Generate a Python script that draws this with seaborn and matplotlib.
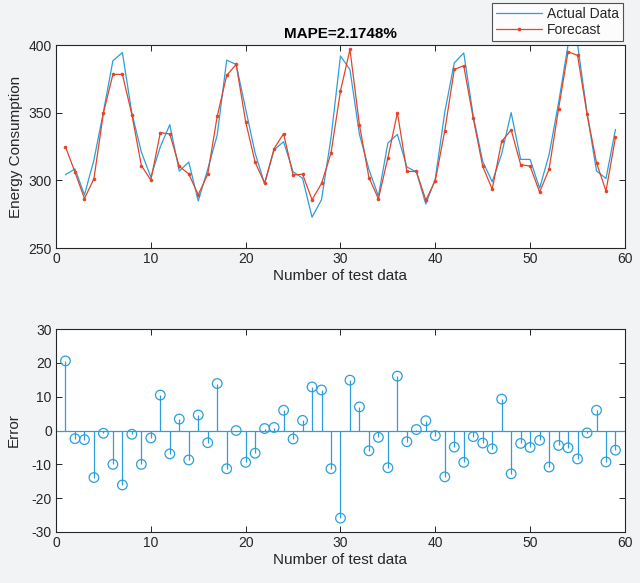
import numpy as np
import pandas as pd
import seaborn as sns
import matplotlib.pyplot as plt

# values
sample_idx = list(range(1, 60))

actual = [304.2, 308.5, 289.3, 315.1, 350.6, 388.4, 394.5, 349.7, 321.0, 302.4,
          324.8, 341.2, 306.9, 313.5, 284.8, 308.2, 333.5, 388.9, 385.7, 352.8,
          320.1, 297.4, 322.6, 328.6, 306.4, 301.6, 272.8, 285.7, 331.4, 392.0,
          381.9, 334.0, 308.1, 288.4, 327.6, 334.0, 309.9, 306.3, 282.5, 301.2,
          350.5, 386.9, 394.2, 347.7, 314.0, 298.9, 319.6, 350.1, 315.5, 315.5,
          294.2, 319.1, 357.4, 400.2, 400.8, 349.8, 307.0, 301.4, 337.7]

forecast = [324.8, 306.1, 286.6, 301.2, 349.8, 378.4, 378.4, 348.6, 311.0, 300.2,
            335.3, 334.3, 310.3, 304.8, 289.4, 304.6, 347.4, 377.6, 385.7, 343.4,
            313.4, 298.0, 323.5, 334.6, 303.9, 304.6, 285.7, 297.7, 320.1, 366.1,
            396.8, 341.0, 302.1, 286.4, 316.6, 350.1, 306.6, 306.6, 285.4, 299.7,
            336.8, 382.0, 384.8, 345.9, 310.3, 293.5, 328.9, 337.3, 311.7, 310.5,
            291.3, 308.3, 353.0, 395.1, 392.4, 349.1, 313.0, 292.1, 331.9]

error = [20.6, -2.4, -2.7, -13.9, -0.8, -10.0, -16.1, -1.1, -10.0, -2.2,
         10.5, -6.9, 3.4, -8.7, 4.6, -3.6, 13.9, -11.3, 0.0, -9.4,
         -6.7, 0.6, 0.9, 6.0, -2.5, 3.0, 12.9, 12.0, -11.3, -25.9,
         14.9, 7.0, -6.0, -2.0, -11.0, 16.1, -3.3, 0.3, 2.9, -1.5,
         -13.7, -4.9, -9.4, -1.8, -3.7, -5.4, 9.3, -12.8, -3.8, -5.0,
         -2.9, -10.8, -4.4, -5.1, -8.4, -0.7, 6.0, -9.3, -5.8]

mape_text = "MAPE=2.1748%"

BLUE = "#2b9fdc"
RED = "#e2452a"
BG = "#f1f3f5"
DARK = "#262626"

sns.set_style("white")
plt.rcParams['font.family'] = ['Liberation Sans', 'DejaVu Sans']
plt.rcParams['axes.unicode_minus'] = False

df = pd.DataFrame({"n": sample_idx, "actual": actual, "forecast": forecast, "error": error})

fig = plt.figure(figsize=(6.4, 5.83), dpi=100, facecolor=BG)
ax1 = fig.add_axes([0.0875, 0.5746, 0.889, 0.348])
ax2 = fig.add_axes([0.0875, 0.0875, 0.889, 0.348])

# top panel: actual vs forecast
sns.lineplot(data=df, x="n", y="actual", ax=ax1, color=BLUE, linewidth=0.9, label="Actual Data")
sns.lineplot(data=df, x="n", y="forecast", ax=ax1, color=RED, linewidth=0.9,
             marker="o", markersize=2.6, markeredgewidth=0, label="Forecast")
ax1.set_xlim(0, 60)
ax1.set_ylim(250, 400)
ax1.set_yticks([250, 300, 350, 400])
ax1.set_xticks(range(0, 61, 10))
ax1.set_xlabel("Number of test data", fontsize=11, color=DARK, labelpad=2)
ax1.set_ylabel("Energy Consumption", fontsize=11, color=DARK, labelpad=4)
ax1.set_title(mape_text, fontsize=11, fontweight="bold", color="black", pad=5)

handles, labels = ax1.get_legend_handles_labels()
ax1.get_legend().remove()
leg = fig.legend(handles, labels, loc="upper right", bbox_to_anchor=(623 / 640, 1 - 3 / 583),
                 fontsize=10, frameon=True, fancybox=False, handlelength=3.3,
                 borderpad=0.3, labelspacing=0.12, handletextpad=0.35, borderaxespad=0)
leg.get_frame().set_edgecolor(DARK)
leg.get_frame().set_linewidth(0.8)
leg.get_frame().set_facecolor("white")

# bottom panel: error stems
ax2.vlines(df["n"], 0, df["error"], color=BLUE, linewidth=0.9)
ax2.axhline(0, color=BLUE, linewidth=0.9)
sns.scatterplot(data=df, x="n", y="error", ax=ax2, marker="o", s=48,
                facecolor="none", edgecolor=BLUE, linewidth=0.9, zorder=3)
ax2.set_xlim(0, 60)
ax2.set_ylim(-30, 30)
ax2.set_yticks(range(-30, 31, 10))
ax2.set_xticks(range(0, 61, 10))
ax2.set_xlabel("Number of test data", fontsize=11, color=DARK, labelpad=2)
ax2.set_ylabel("Error", fontsize=11, color=DARK, labelpad=8)

for ax in (ax1, ax2):
    ax.set_facecolor("white")
    for sp in ax.spines.values():
        sp.set_visible(True)
        sp.set_color(DARK)
        sp.set_linewidth(0.8)
    ax.tick_params(direction="in", length=4, width=0.7, colors=DARK, labelsize=10,
                   top=True, right=True, bottom=True, left=True, pad=3)
    ax.grid(False)

fig.savefig("out.png", dpi=100, facecolor=BG)
